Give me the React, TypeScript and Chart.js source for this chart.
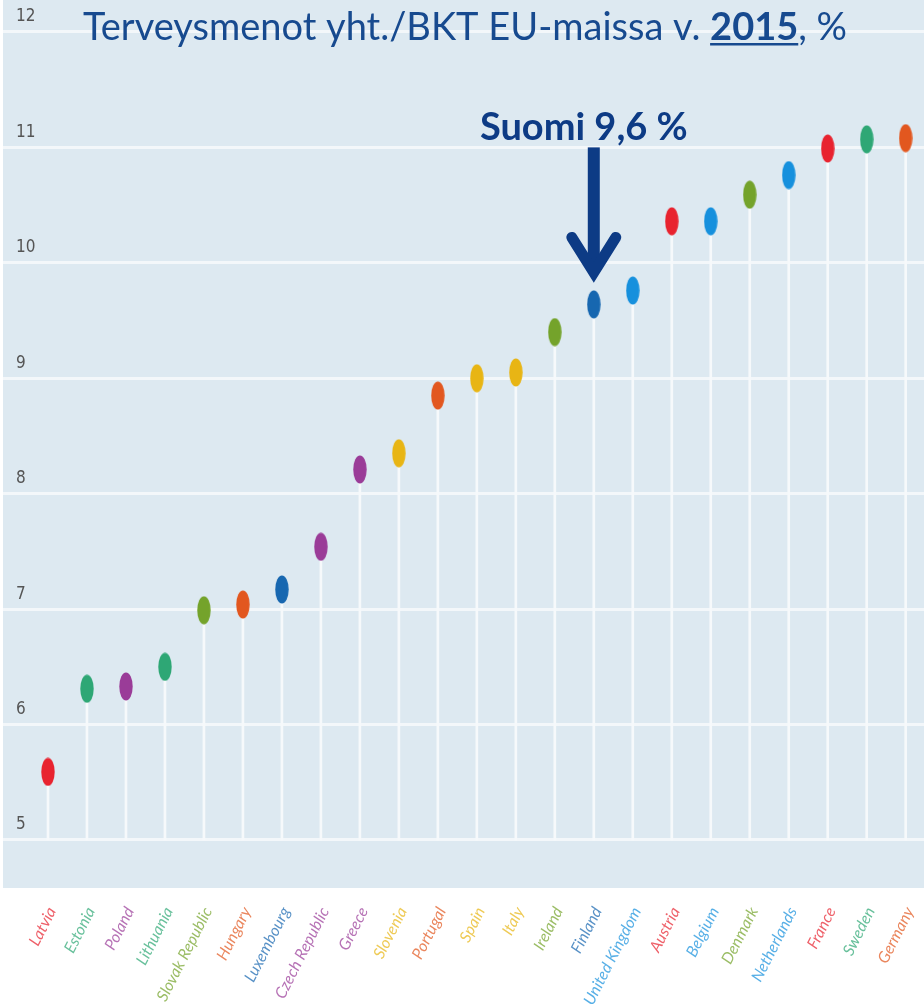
import React, { useEffect, useRef } from 'react';
import { Chart, registerables } from 'chart.js';

Chart.register(...registerables);

const countries = [
  'Latvia', 'Estonia', 'Poland', 'Lithuania', 'Slovak Republic', 'Hungary',
  'Luxembourg', 'Czech Republic', 'Greece', 'Slovenia', 'Portugal', 'Spain',
  'Italy', 'Ireland', 'Finland', 'United Kingdom', 'Austria', 'Belgium',
  'Denmark', 'Netherlands', 'France', 'Sweden', 'Germany',
];

const values = [
  5.59, 6.31, 6.33, 6.5, 6.99, 7.04, 7.17, 7.54, 8.21, 8.35, 8.85, 9.0,
  9.05, 9.4, 9.64, 9.76, 10.36, 10.36, 10.59, 10.76, 10.99, 11.07, 11.08,
];

const RED = '#e8232f';
const TEAL = '#2ea775';
const PURPLE = '#9a3c98';
const OLIVE = '#74a32b';
const ORANGE = '#e2571f';
const DBLUE = '#1767b0';
const LBLUE = '#1690dd';
const YELLOW = '#e8b514';

const markerColors = [
  RED, TEAL, PURPLE, TEAL, OLIVE, ORANGE, DBLUE, PURPLE, PURPLE, YELLOW, ORANGE,
  YELLOW, YELLOW, OLIVE, DBLUE, LBLUE, RED, LBLUE, OLIVE, LBLUE, RED, TEAL, ORANGE,
];

const yTickValues = [5, 6, 7, 8, 9, 10, 11, 12];
const stemBase = 5;

const titleBefore = 'Terveysmenot yht./BKT EU-maissa v. ';
const titleYear = '2015';
const titleAfter = ', %';
const highlightIndex = 14;
const highlightText = 'Suomi 9,6 %';

function hexToRgba(hex: string, a: number) {
  const n = parseInt(hex.slice(1), 16);
  return `rgba(${(n >> 16) & 255},${(n >> 8) & 255},${n & 255},${a})`;
}

function makeMarker(color: string) {
  const c = document.createElement('canvas');
  c.width = 14;
  c.height = 29;
  const g = c.getContext('2d')!;
  g.fillStyle = color;
  g.beginPath();
  g.ellipse(7, 14.5, 6.7, 14, 0, 0, Math.PI * 2);
  g.fill();
  return c;
}

const BG = '#dde9f1';
const NAVY = '#0d3b85';
const TITLE_BLUE = '#174a8f';

const backgroundPlugin = {
  id: 'bgFill',
  beforeDraw(chart: any) {
    const { ctx, chartArea } = chart;
    ctx.save();
    ctx.fillStyle = BG;
    ctx.fillRect(chartArea.left, chartArea.top, chartArea.right - chartArea.left, chartArea.bottom - chartArea.top);
    ctx.restore();
  },
};

const overlayPlugin = {
  id: 'overlay',
  afterDraw(chart: any) {
    const { ctx } = chart;
    ctx.save();
    // Title
    const size = 38;
    const fam = 'Lato, "Open Sans", sans-serif';
    const normal = `${size}px ${fam}`;
    const bold = `bold ${size}px ${fam}`;
    ctx.font = normal;
    const w1 = ctx.measureText(titleBefore).width;
    const w3 = ctx.measureText(titleAfter).width;
    ctx.font = bold;
    const w2 = ctx.measureText(titleYear).width;
    const total = w1 + w2 + w3;
    let x = 465 - total / 2;
    const base = 40;
    ctx.fillStyle = TITLE_BLUE;
    ctx.textBaseline = 'alphabetic';
    ctx.textAlign = 'left';
    ctx.font = normal;
    ctx.fillText(titleBefore, x, base);
    x += w1;
    ctx.font = bold;
    ctx.fillText(titleYear, x, base);
    ctx.fillRect(x, base + 3, w2, 2.5);
    x += w2;
    ctx.font = normal;
    ctx.fillText(titleAfter, x, base);

    // Annotation arrow + label anchored at Finland point
    const meta = chart.getDatasetMeta(1);
    const pt = meta.data[highlightIndex];
    if (pt) {
      const px = pt.x;
      const py = pt.y;
      ctx.fillStyle = NAVY;
      ctx.strokeStyle = NAVY;
      ctx.font = `bold 38px ${fam}`;
      ctx.textAlign = 'center';
      ctx.fillText(highlightText, px - 10, py - 164);
      const tipY = py - 21;
      ctx.fillRect(px - 6, py - 157, 12, 157 - 21 - 12);
      ctx.lineWidth = 11;
      ctx.lineCap = 'round';
      ctx.lineJoin = 'miter';
      ctx.beginPath();
      ctx.moveTo(px - 22, tipY - 46);
      ctx.lineTo(px, tipY - 11);
      ctx.lineTo(px + 22, tipY - 46);
      ctx.stroke();
    }
    ctx.restore();
  },
};

export default function App() {
  const ref = useRef<HTMLCanvasElement | null>(null);

  useEffect(() => {
    document.body.style.margin = '0';
    const canvas = ref.current;
    if (!canvas) return;
    const markers = markerColors.map(makeMarker);
    const chart = new Chart(canvas, {
      type: 'scatter',
      data: {
        datasets: [
          {
            type: 'bar',
            data: values.map((v, i) => ({ x: i, y: [stemBase, v] })) as any,
            backgroundColor: '#f6f9fb',
            borderWidth: 0,
            barThickness: 2,
            order: 2,
          } as any,
          {
            type: 'line',
            data: values.map((v, i) => ({ x: i, y: v })),
            showLine: false,
            pointStyle: markers as any,
            pointRadius: 7,
            pointHoverRadius: 7,
            pointBackgroundColor: markerColors,
            pointBorderWidth: 0,
            order: 1,
          } as any,
        ],
      },
      options: {
        animation: false,
        responsive: false,
        devicePixelRatio: 1,
        layout: { padding: 0, autoPadding: false },
        plugins: {
          legend: { display: false },
          tooltip: { enabled: false },
          title: { display: false },
        },
        scales: {
          x: {
            type: 'linear',
            offset: false,
            min: -1.154,
            max: 22.47,
            grid: { display: false },
            border: { display: false },
            afterBuildTicks: (scale: any) => {
              scale.ticks = countries.map((_, i) => ({ value: i }));
            },
            afterFit: (scale: any) => {
              scale.height = 117;
              scale.paddingLeft = 0;
              scale.paddingRight = 0;
              scale.paddingTop = 0;
              scale.paddingBottom = 0;
            },
            ticks: {
              autoSkip: false,
              minRotation: 63,
              maxRotation: 63,
              padding: 8,
              labelOffset: 4,
              callback: (v: any) => countries[v as number] ?? '',
              color: (c: any) => hexToRgba(markerColors[c.index] || '#888888', 0.72),
              font: { family: 'Lato, "Open Sans", sans-serif', style: 'italic', size: 16 },
            },
          },
          y: {
            type: 'linear',
            min: 4.584,
            max: 12.277,
            afterBuildTicks: (scale: any) => {
              scale.ticks = yTickValues.map((v) => ({ value: v }));
            },
            afterFit: (scale: any) => {
              scale.width = 3;
              scale.paddingLeft = 0;
              scale.paddingRight = 0;
              scale.paddingTop = 0;
              scale.paddingBottom = 0;
            },
            grid: { color: '#f3f7fa', lineWidth: 3, drawTicks: false },
            border: { display: false },
            ticks: {
              mirror: true,
              padding: 13,
              labelOffset: -15,
              color: '#555555',
              font: { family: '"Liberation Sans Narrow", "DejaVu Sans Condensed", sans-serif', size: 17 },
            },
          },
        },
      },
      plugins: [backgroundPlugin, overlayPlugin],
    } as any);
    return () => chart.destroy();
  }, []);

  return (
    <div style={{ width: 924, height: 1005, position: 'relative' }}>
      <canvas ref={ref} width={924} height={1005} style={{ width: 924, height: 1005, display: 'block' }} />
    </div>
  );
}
